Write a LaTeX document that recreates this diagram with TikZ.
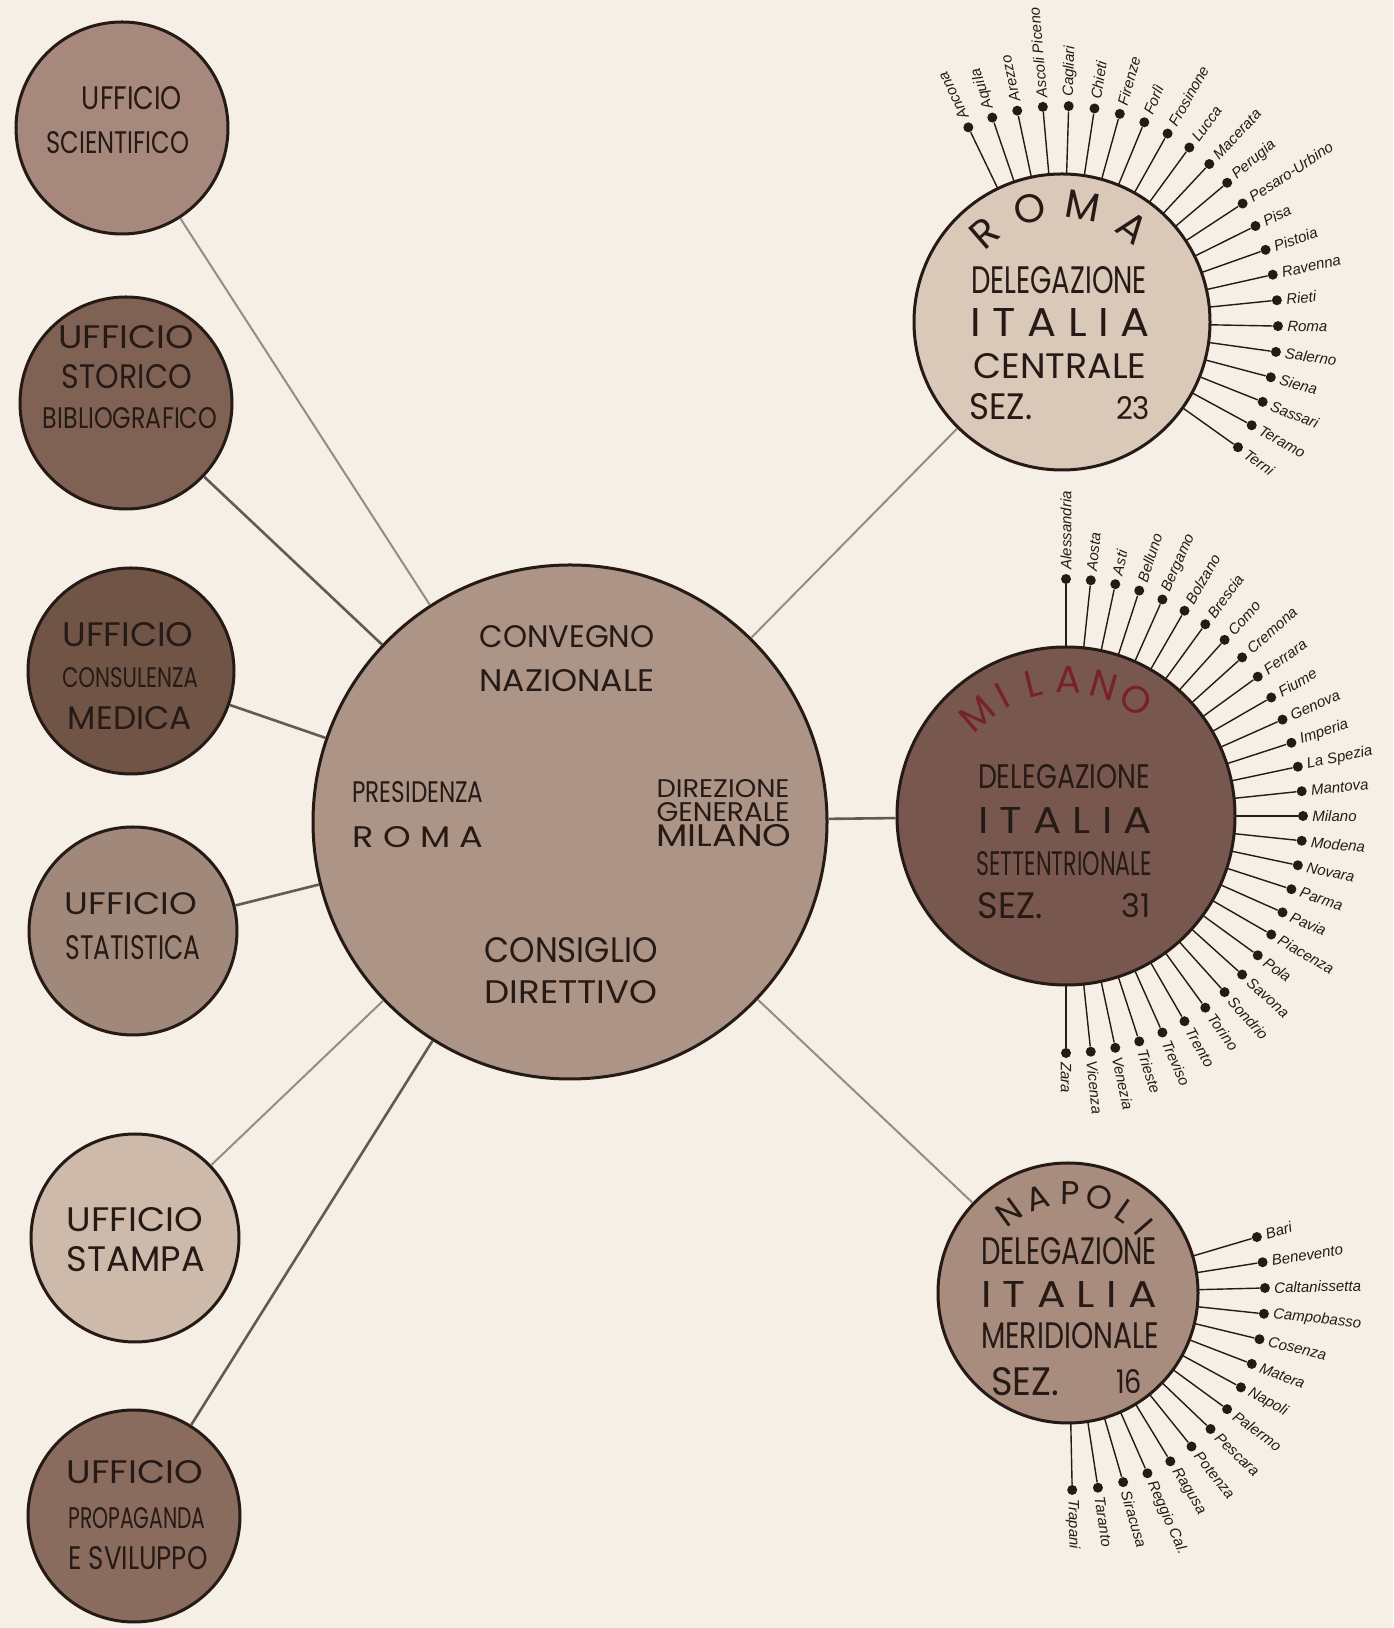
\documentclass[tikz,border=0pt]{standalone}
\usepackage{fontspec}
\setmainfont{Poppins}
\newfontfamily\hand{Liberation Sans}
\usepackage{graphicx}

\definecolor{paper}{RGB}{246,239,230}
\definecolor{ink}{RGB}{38,26,22}
\definecolor{redink}{RGB}{118,34,38}
\definecolor{wire}{RGB}{100,90,85}
\definecolor{wirelt}{RGB}{150,140,134}
\definecolor{toneSci}{RGB}{166,136,124}
\definecolor{toneSto}{RGB}{128,98,84}
\definecolor{toneMed}{RGB}{112,84,70}
\definecolor{toneSta}{RGB}{160,136,122}
\definecolor{toneStp}{RGB}{205,186,171}
\definecolor{tonePro}{RGB}{138,108,95}
\definecolor{toneConv}{RGB}{172,148,134}
\definecolor{toneRoma}{RGB}{218,200,185}
\definecolor{toneMil}{RGB}{120,88,78}
\definecolor{toneNap}{RGB}{168,140,125}

% width, cap height (pt), text
\newcommand{\fitbox}[3]{\resizebox{#1pt}{#2pt}{#3}}

\begin{document}
\begin{tikzpicture}[x=0.5pt,y=0.5pt,
    disc/.style={circle,draw=ink,line width=1.5pt,inner sep=0pt},
    word/.style={inner sep=0pt,text=ink},
    link/.style={draw=wire,line width=1.3pt},
    faint/.style={draw=wirelt,line width=1pt},
    ray/.style={draw=ink,line width=0.7pt},
    dot/.style={circle,fill=ink,inner sep=0pt,minimum size=5pt},
    city/.style={inner sep=0pt,anchor=west,text=ink,
        font=\hand\itshape\fontsize{7.5}{8}\selectfont}
]

\useasboundingbox (0,0) rectangle (1393,1628);
\fill[paper] (0,0) rectangle (1393,1628);

% Uffici
\node[disc,fill=toneSci,minimum size=106pt] (sci) at (122,1500) {};
\node[disc,fill=toneSto,minimum size=106pt] (sto) at (126,1225) {};
\node[disc,fill=toneMed,minimum size=103pt] (med) at (131,957) {};
\node[disc,fill=toneSta,minimum size=104pt] (sta) at (133,697) {};
\node[disc,fill=toneStp,minimum size=104pt] (stp) at (135,390) {};
\node[disc,fill=tonePro,minimum size=106pt] (pro) at (134,112) {};

% Convegno
\node[disc,fill=toneConv,minimum size=257pt] (conv) at (570,806) {};

% Delegazioni
\node[disc,fill=toneRoma,minimum size=148pt] (roma) at (1062,1306) {};
\node[disc,fill=toneMil,minimum size=169pt] (mil) at (1066,812) {};
\node[disc,fill=toneNap,minimum size=130pt] (nap) at (1068,335) {};

% Collegamenti
\draw[faint] (sci) -- (conv);
\draw[link] (sto) -- (conv);
\draw[link] (med) -- (conv);
\draw[link] (sta) -- (conv);
\draw[faint] (stp) -- (conv);
\draw[link] (pro) -- (conv);
\draw[faint] (roma) -- (conv);
\draw[link] (mil) -- (conv);
\draw[faint] (nap) -- (conv);

% Testi uffici
\node[word] (sci1) at (132,1530) {\fitbox{50}{11.5}{UFFICIO}};
\node[word] (sci2) at (118,1485) {\fitbox{71.5}{11}{SCIENTIFICO}};

\node[word] (sto1) at (126,1291) {\fitbox{67.5}{11.5}{UFFICIO}};
\node[word] (sto2) at (127,1251) {\fitbox{65}{12}{STORICO}};
\node[word] (sto3) at (130,1210) {\fitbox{87}{10.5}{BIBLIOGRAFICO}};

\node[word] (med1) at (128,993) {\fitbox{65.5}{12}{UFFICIO}};
\node[word] (med2) at (130,950) {\fitbox{68}{10}{CONSULENZA}};
\node[word] (med3) at (130,910) {\fitbox{62}{11.5}{MEDICA}};

\node[word] (sta1) at (131,724) {\fitbox{66}{11}{UFFICIO}};
\node[word] (sta2) at (133,680) {\fitbox{67.5}{12}{STATISTICA}};

\node[word] (stp1) at (135,408) {\fitbox{68}{12}{UFFICIO}};
\node[word] (stp2) at (136,369) {\fitbox{69}{12.5}{STAMPA}};

\node[word] (pro1) at (135,156) {\fitbox{68}{11.5}{UFFICIO}};
\node[word] (pro2) at (137,110) {\fitbox{68.5}{10.5}{PROPAGANDA}};
\node[word] (pro3) at (138,70) {\fitbox{69.5}{11.5}{E SVILUPPO}};

% Testi convegno
\node[word] (conv1) at (567,991) {\fitbox{87.5}{11}{CONVEGNO}};
\node[word] (conv2) at (567,947) {\fitbox{87.5}{11}{NAZIONALE}};
\node[word] (conv3) at (418,836) {\fitbox{65.5}{10.5}{PRESIDENZA}};
\node[word] (conv4) at (418,791) {\fitbox{65.5}{10.5}{R O M A}};
\node[word] (conv5) at (723,839) {\fitbox{66.5}{9}{DIREZIONE}};
\node[word] (conv6) at (723,816) {\fitbox{66.5}{9.5}{GENERALE}};
\node[word] (conv7) at (724,792) {\fitbox{67.5}{11}{MILANO}};
\node[word] (conv8) at (571,678) {\fitbox{86.5}{12.5}{CONSIGLIO}};
\node[word] (conv9) at (571,636) {\fitbox{86.5}{11.5}{DIRETTIVO}};

% Roma
\foreach \l/\t in {R/131,O/106,M/80,A/53}{
    \node[word,rotate=\t-90,font=\fontsize{20}{20}\selectfont]
        (roma\l) at ([shift={(\t:118)}]roma.center) {\l};
}
\node[word] (roma1) at (1059,1348) {\fitbox{88}{13.5}{DELEGAZIONE}};
\node[word] (roma2) at (1060,1305) {\fitbox{89.5}{14}{I T A L I A}};
\node[word] (roma3) at (1060,1262) {\fitbox{86.5}{12.5}{CENTRALE}};
\node[word] (roma4) at (1001,1221) {\fitbox{31.5}{13}{SEZ.}};
\node[word] (roma5) at (1133,1220) {\fitbox{17}{11.5}{23}};

\foreach \c [count=\i from 0] in {Ancona,Aquila,Arezzo,Ascoli Piceno,
    Cagliari,Chieti,Firenze,Forlì,Frosinone,Lucca,Macerata,Perugia,
    Pesaro-Urbino,Pisa,Pistoia,Ravenna,Rieti,Roma,Salerno,Siena,
    Sassari,Teramo,Terni}{
    \pgfmathsetmacro\ang{115.7-6.87*\i}
    \coordinate (rs\i) at ([shift={(\ang:148)}]roma.center);
    \node[dot] (rd\i) at ([shift={(\ang:216)}]roma.center) {};
    \draw[ray] (rs\i) -- (rd\i);
    \node[city,rotate=\ang] (rc\i) at ([shift={(\ang:225)}]roma.center) {\c};
}

% Milano
\foreach \l/\t in {M/131,I/118,L/104,A/89,N/74,O/59}{
    \node[word,text=redink,rotate=\t-90,font=\fontsize{19}{19}\selectfont]
        (mil\l) at ([shift={(\t:136)}]mil.center) {\l};
}
\node[word] (mil1) at (1064,851) {\fitbox{86}{12}{DELEGAZIONE}};
\node[word] (mil2) at (1065,807) {\fitbox{87}{13}{I T A L I A}};
\node[word] (mil3) at (1064,764) {\fitbox{88}{12}{SETTENTRIONALE}};
\node[word] (mil4) at (1010,722) {\fitbox{32.5}{13}{SEZ.}};
\node[word] (mil5) at (1136,722) {\fitbox{14.5}{12}{31}};

\foreach \c [count=\i from 0] in {Alessandria,Aosta,Asti,Belluno,Bergamo,
    Bolzano,Brescia,Como,Cremona,Ferrara,Fiume,Genova,Imperia,La Spezia,
    Mantova,Milano,Modena,Novara,Parma,Pavia,Piacenza,Pola,Savona,Sondrio,
    Torino,Trento,Treviso,Trieste,Venezia,Vicenza,Zara}{
    \pgfmathsetmacro\ang{90-6*\i}
    \coordinate (ms\i) at ([shift={(\ang:169)}]mil.center);
    \node[dot] (md\i) at ([shift={(\ang:237)}]mil.center) {};
    \draw[ray] (ms\i) -- (md\i);
    \node[city,rotate=\ang] (mc\i) at ([shift={(\ang:246)}]mil.center) {\c};
}

% Napoli
\foreach \l/\t in {N/126,A/108,P/89,O/72,L/55,I/41}{
    \node[word,rotate=\t-90,font=\fontsize{16.5}{16.5}\selectfont]
        (nap\l) at ([shift={(\t:100)}]nap.center) {\l};
}
\node[word] (nap1) at (1069,377) {\fitbox{88}{13.5}{DELEGAZIONE}};
\node[word] (nap2) at (1069,333) {\fitbox{88}{13}{I T A L I A}};
\node[word] (nap3) at (1070,292) {\fitbox{89}{13}{MERIDIONALE}};
\node[word] (nap4) at (1025,246) {\fitbox{34}{14}{SEZ.}};
\node[word] (nap5) at (1129,246) {\fitbox{13}{12}{16}};

\foreach \c [count=\i from 0] in {Bari,Benevento,Caltanissetta,Campobasso,
    Cosenza,Matera,Napoli,Palermo,Pescara,Potenza,Ragusa,Reggio Cal.,
    Siracusa,Taranto,Trapani}{
    \pgfmathsetmacro\ang{16.5-7.52*\i}
    \coordinate (ns\i) at ([shift={(\ang:130)}]nap.center);
    \node[dot] (nd\i) at ([shift={(\ang:197)}]nap.center) {};
    \draw[ray] (ns\i) -- (nd\i);
    \node[city,rotate=\ang] (nc\i) at ([shift={(\ang:206)}]nap.center) {\c};
}

\end{tikzpicture}
\end{document}
